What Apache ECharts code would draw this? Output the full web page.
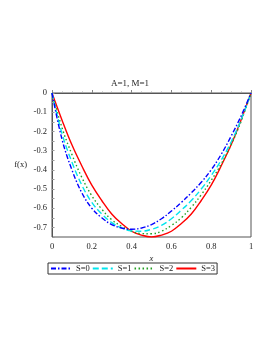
<!DOCTYPE html>
<html>
<head>
<meta charset="utf-8">
<script src="https://cdn.jsdelivr.net/npm/echarts@6/dist/echarts.min.js"></script>
<style>html,body{margin:0;padding:0;background:#fff;}#c{width:273px;height:353px;}</style>
</head>
<body>
<div id="c"></div>
<script>
var xs = [0, 0.05, 0.1, 0.15, 0.2, 0.25, 0.3, 0.35, 0.4, 0.45, 0.5, 0.55, 0.6, 0.65, 0.7, 0.75, 0.8, 0.85, 0.9, 0.95, 1];
var s0 = [0, -0.24, -0.40, -0.52, -0.60, -0.65, -0.685, -0.703, -0.71, -0.703, -0.685, -0.655, -0.615, -0.57, -0.52, -0.465, -0.40, -0.32, -0.225, -0.12, 0];
var s1 = [0, -0.21, -0.36, -0.48, -0.57, -0.63, -0.675, -0.703, -0.718, -0.72, -0.71, -0.69, -0.655, -0.61, -0.56, -0.50, -0.43, -0.35, -0.255, -0.14, 0];
var s2 = [0, -0.18, -0.32, -0.44, -0.535, -0.605, -0.66, -0.695, -0.72, -0.732, -0.733, -0.72, -0.69, -0.65, -0.595, -0.53, -0.455, -0.37, -0.27, -0.148, 0];
var s3 = [0, -0.14, -0.27, -0.38, -0.48, -0.56, -0.63, -0.68, -0.72, -0.74, -0.75, -0.74, -0.72, -0.68, -0.63, -0.56, -0.48, -0.38, -0.27, -0.14, 0];
var names = ['S=0', 'S=1', 'S=2', 'S=3'];
var yTicks = [0, -0.1, -0.2, -0.3, -0.4, -0.5, -0.6, -0.7];

function pairs(ys){ return xs.map(function(x,i){ return [x, ys[i]]; }); }
var font = 'Liberation Serif';
var styles = [
  {color:'#0000ff', type:[5,2,1.5,2]},
  {color:'#00e5ee', type:[6,3]},
  {color:'#22a022', type:[1.5,2.5]},
  {color:'#ff0000', type:'solid'}
];
var allData = [s0, s1, s2, s3];
var chart = echarts.init(document.getElementById('c'));
chart.setOption({
  animation: false,
  title: {text: 'A=1, M=1', left: 130, top: 79, padding: 0, textAlign: 'center',
    textStyle: {fontFamily: font, fontSize: 9, fontWeight: 'normal', color: '#222'}},
  grid: {left: 52, right: 22, top: 93, bottom: 116, show: true, borderColor: '#555', borderWidth: 1},
  legend: {left: 48, top: 263, itemWidth: 20, itemHeight: 8, itemGap: 2, padding: [1, 2],
    borderColor: '#333', borderWidth: 1, borderRadius: 0,
    itemStyle: {opacity: 0},
    textStyle: {fontFamily: font, fontSize: 8.5, color: '#222'}, data: names},
  xAxis: {type: 'value', min: 0, max: 1, interval: 0.2,
    name: 'x', nameLocation: 'middle', nameGap: 17,
    nameTextStyle: {fontFamily: font, fontSize: 8.5, fontStyle: 'italic', color: '#222'},
    axisLine: {show: true, lineStyle: {color: '#555'}},
    axisTick: {show: true, inside: true, length: 3, lineStyle: {color: '#888'}},
    minorTick: {show: true, splitNumber: 4, length: 1.5, lineStyle: {color: '#aaa'}},
    splitLine: {show: false},
    axisLabel: {fontFamily: font, fontSize: 8.5, color: '#222', margin: 5,
      formatter: function(v){ return String(Math.round(v*10)/10); }}},
  yAxis: {type: 'value', min: -0.75, max: 0, interval: 0.05,
    name: 'f(x)', nameLocation: 'middle', nameGap: 25, nameRotate: 0,
    nameTextStyle: {fontFamily: font, fontSize: 8.5, color: '#222'},
    axisLine: {show: true, lineStyle: {color: '#555'}},
    axisTick: {show: true, inside: true, length: 2.5, lineStyle: {color: '#999'}},
    splitLine: {show: false},
    axisLabel: {fontFamily: font, fontSize: 8.5, color: '#222', margin: 5,
      formatter: function(v){
        for (var i = 0; i < yTicks.length; i++) { if (Math.abs(v - yTicks[i]) < 1e-6) return String(yTicks[i]); }
        return '';
      }}},
  series: allData.map(function(d, i){
    return {name: names[i], type: 'line', data: pairs(d), smooth: 0.4, symbol: 'none',
      lineStyle: {color: styles[i].color, width: 1.4, type: styles[i].type},
      itemStyle: {color: styles[i].color}, z: 10 - i};
  })
});
</script>
</body>
</html>
